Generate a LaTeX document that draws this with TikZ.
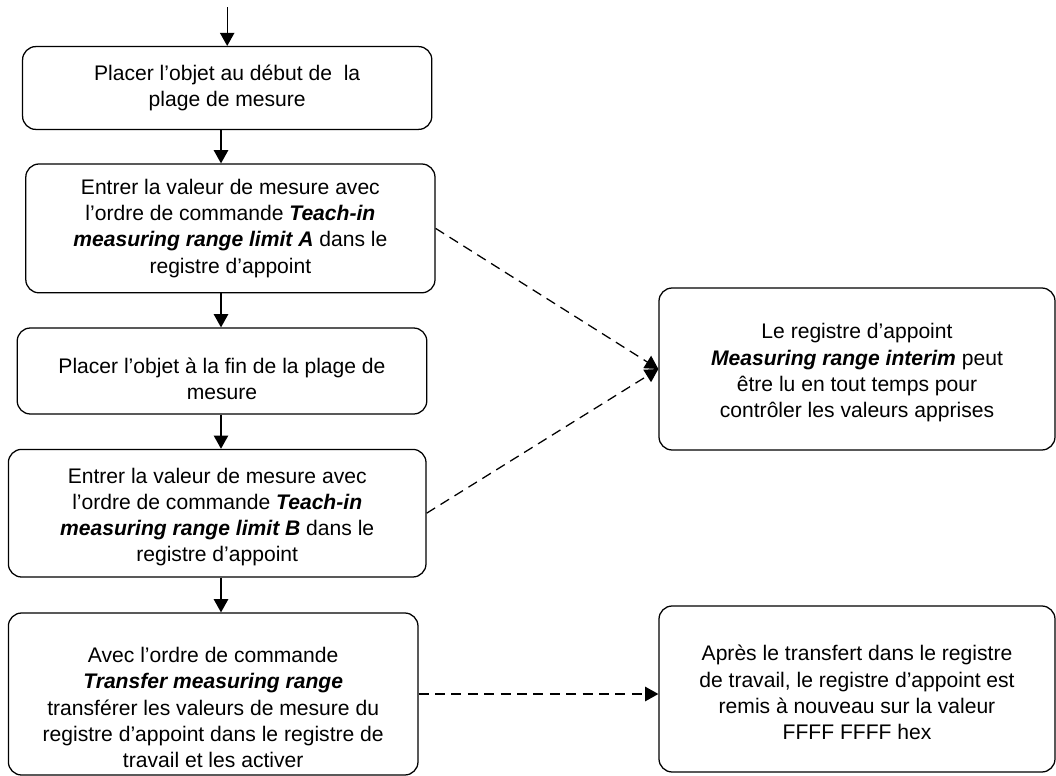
\documentclass[tikz,border=0pt]{standalone}
\usepackage{fontspec}
\setmainfont{Liberation Sans}
\usepackage{tikz}
\usetikzlibrary{positioning,calc,arrows.meta}

% text set lower inside its box, box size kept
\newcommand{\lowtext}[2]{\raisebox{-#1}[\height][\depth]{\begin{tabular}{@{}c@{}}#2\end{tabular}}}

\begin{document}
\begin{tikzpicture}[
		stepbox/.style={draw=black,line width=0.9pt,rounded corners=0.33cm,align=center,inner sep=0pt,font=\fontsize{15pt}{18.7pt}\selectfont},
		flow/.style={-{Triangle[length=0.33cm,width=0.36cm]},line width=0.9pt},
		link/.style={flow,dash pattern=on 0.25cm off 0.16cm}
	]
		\useasboundingbox (0,0) rectangle (26.4,-19.4);
		% left column
		\node[stepbox,minimum width=10.23cm,minimum height=2.07cm] (b1) at (5.68,-2.2) {Placer l’objet au début de \ la\\plage de mesure};
		\node[stepbox,minimum width=10.23cm,minimum height=3.22cm] (b2) at (5.76,-5.71) {Entrer la valeur de mesure avec\\l’ordre de commande \textbf{\textit{Teach-in}}\\\textbf{\textit{measuring range limit A}} dans le\\registre d’appoint};
		\node[stepbox,minimum width=10.24cm,minimum height=2.15cm] (b3) at (5.55,-9.275) {\lowtext{0.25cm}{Placer l’objet à la fin de la plage de\\mesure}};
		\node[stepbox,minimum width=10.44cm,minimum height=3.19cm] (b4) at (5.43,-12.83) {\lowtext{0.1cm}{Entrer la valeur de mesure avec\\l’ordre de commande \textbf{\textit{Teach-in}}\\\textbf{\textit{measuring range limit B}} dans le\\registre d’appoint}};
		\node[stepbox,minimum width=10.24cm,minimum height=4.05cm] (b5) at (5.33,-17.35) {\lowtext{0.4cm}{Avec l’ordre de commande\\\textbf{\textit{Transfer measuring range}}\\transférer les valeurs de mesure du\\registre d’appoint dans le registre de\\travail et les activer}};
		% right column
		\node[stepbox,minimum width=9.9cm,minimum height=4.05cm] (r1) at (21.425,-9.225) {\lowtext{0.1cm}{Le registre d’appoint\\\textbf{\textit{Measuring range interim}} peut\\être lu en tout temps pour\\contrôler les valeurs apprises}};
		\node[stepbox,minimum width=9.9cm,minimum height=4.15cm] (r2) at (21.425,-17.225) {\lowtext{0.15cm}{Après le transfert dans le registre\\de travail, le registre d’appoint est\\remis à nouveau sur la valeur\\FFFF FFFF hex}};
		
		\coordinate (start) at ($(b1.north)+(0,0.97)$);
		\coordinate (spine) at (5.525,0);
		\draw[flow] (start)--(b1.north);
		\draw[flow] (b1.south -| spine)--(b2.north -| spine);
		\draw[flow] (b2.south -| spine)--(b3.north -| spine);
		\draw[flow] (b3.south -| spine)--(b4.north -| spine);
		\draw[flow] (b4.south -| spine)--(b5.north -| spine);
		
		\draw[link] (b2.east)--(r1.west);
		\draw[link] (b4.east)--(r1.west);
		\draw[link] (b5.east)--(b5.east -| r2.west);
	\end{tikzpicture}
\end{document}
